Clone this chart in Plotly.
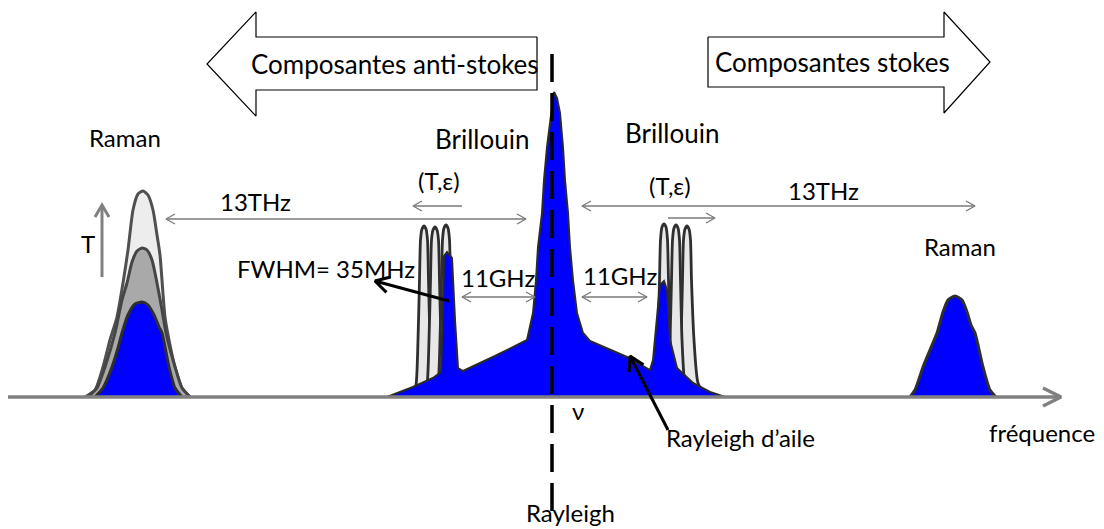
import math
import plotly.graph_objects as go

# ---------------- data (pixel-space schematic, y measured downward) ----------------
# Left Raman (anti-stokes) – three temperature states
raman_l_outer_x = [85, 95, 103, 110, 117, 123, 128, 133, 138, 143, 148, 153, 157, 160, 165, 170, 175, 182, 190]
raman_l_outer_y = [397, 390, 367, 340, 317, 283, 250, 210, 194, 191, 195, 210, 235, 255, 317, 345, 367, 388, 397]
raman_l_mid_x = [88, 97, 105, 115, 122, 127, 132, 137, 142, 147, 152, 157, 162, 166, 175, 182, 190]
raman_l_mid_y = [397, 388, 367, 333, 300, 283, 262, 251, 248, 250, 260, 283, 310, 333, 367, 388, 397]
raman_l_blue_x = [95, 103, 112, 118, 122, 128, 135, 142, 148, 154, 159, 162, 169, 175, 182]
raman_l_blue_y = [397, 388, 367, 348, 333, 315, 304, 302, 305, 315, 327, 333, 367, 388, 397]

# Right Raman (stokes)
raman_r_x = [910, 915, 923, 930, 937, 943, 948, 955, 962, 967, 971, 975, 983, 990, 996]
raman_r_y = [397, 390, 367, 350, 333, 312, 300, 296, 300, 312, 325, 333, 367, 390, 397]

# Brillouin shifted peaks (grey, three strain/temperature states each side)
bril_l1_x = [412, 416, 418, 419.5, 420.5, 422, 424, 426, 427.5, 428.5, 430, 432, 435]
bril_l1_y = [397, 385, 340, 280, 240, 229, 226, 229, 240, 280, 340, 385, 397]
bril_l2_x = [423, 427, 429, 430.5, 431.5, 433, 435, 437, 438.5, 439.5, 441, 443, 446]
bril_l2_y = [397, 385, 340, 280, 240, 230, 227, 230, 240, 280, 340, 385, 397]
bril_l3_x = [434, 438, 440, 441.5, 442.5, 444, 446, 448, 449.5, 450.5, 452, 455, 459]
bril_l3_y = [397, 385, 340, 280, 240, 228, 225, 228, 240, 280, 340, 385, 397]
bril_r1_x = [652, 656, 658, 659.5, 660.5, 662, 664, 666, 667.5, 668.5, 670, 672, 676]
bril_r1_y = [397, 385, 340, 280, 240, 227, 224, 227, 240, 280, 340, 385, 397]
bril_r2_x = [664, 668, 670, 671.5, 672.5, 674, 676, 678, 679.5, 680.5, 682, 685, 690]
bril_r2_y = [397, 385, 340, 280, 240, 228, 225, 228, 240, 280, 340, 385, 397]
bril_r3_x = [675, 679, 681, 682.5, 683.5, 685, 687, 689, 690.5, 691.5, 694, 698, 706]
bril_r3_y = [397, 385, 340, 280, 240, 229, 226, 229, 240, 280, 340, 383, 397]

# Rayleigh + Rayleigh wing + Brillouin (current state, blue)
spec_x = [387, 413, 433, 441, 443, 444, 447, 452, 455, 458, 463, 495, 527, 533, 536, 538, 542, 544,
          547, 551, 554, 557, 560, 563, 565, 568, 570, 573, 577, 583, 590, 627, 650, 653, 657, 660,
          664, 667, 670, 677, 693, 710, 725]
spec_y = [397, 387, 378, 372, 303, 256, 252, 258, 320, 368, 371, 356, 340, 313, 280, 247, 213, 180,
          147, 113, 92, 98, 113, 147, 180, 213, 247, 280, 313, 333, 341, 357, 370, 360, 320, 285,
          281, 290, 340, 368, 383, 392, 397]

# Text labels
label_text = ["Composantes anti-stokes", "Composantes stokes", "Raman", "Brillouin", "Brillouin",
              "(T,ε)", "(T,ε)", "13THz", "13THz", "T", "FWHM= 35MHz", "11GHz", "11GHz", "Raman",
              "ν", "Rayleigh d’aile", "fréquence", "Rayleigh"]
label_x = [395, 832, 125, 482, 672, 439, 670, 255, 823, 88, 326, 498, 620, 960, 578, 740, 1042, 570]
label_y = [64, 62, 137, 139, 133, 180, 185, 201, 190, 243, 268, 277, 275, 246, 410, 437, 432, 512]
label_size = [26, 26, 24, 26, 26, 24, 24, 24, 24, 24, 24, 24, 24, 24, 24, 24, 24, 24]

# Thin double/single arrows: x0, y0, x1, y1 (head at x1,y1), both heads?
thin_arrows = [
    (166, 219, 526, 219, True),
    (462, 206, 413, 206, False),
    (582, 206, 975, 206, True),
    (668, 218, 715, 218, False),
    (462, 297, 535, 297, True),
    (582, 297, 647, 297, True),
]

# ---------------- figure ----------------
fig = go.Figure()


def arrow_xy(x0, y0, x1, y1, hl, hw, both=False):
    xs = [x0, x1, None]
    ys = [y0, y1, None]
    heads = [(x0, y0, x1, y1)]
    if both:
        heads.append((x1, y1, x0, y0))
    for ax, ay, bx, by in heads:
        dx, dy = bx - ax, by - ay
        L = math.hypot(dx, dy)
        ux, uy = dx / L, dy / L
        px, py = -uy, ux
        xs += [bx - hl * ux + hw * px, bx, bx - hl * ux - hw * px, None]
        ys += [by - hl * uy + hw * py, by, by - hl * uy - hw * py, None]
    return xs, ys


def add_poly(x, y, fill, line, width):
    fig.add_trace(go.Scatter(x=x, y=y, mode="lines", fill="toself", fillcolor=fill,
                             line=dict(color=line, width=width, shape="spline", smoothing=0.6),
                             hoverinfo="skip", showlegend=False))


def add_arrow(x0, y0, x1, y1, color, width, hl, hw, both=False):
    xs, ys = arrow_xy(x0, y0, x1, y1, hl, hw, both)
    fig.add_trace(go.Scatter(x=xs, y=ys, mode="lines", line=dict(color=color, width=width),
                             hoverinfo="skip", showlegend=False))


# big block arrows
fig.add_trace(go.Scatter(x=[537, 256, 256, 207, 256, 256, 537, 537],
                         y=[37, 37, 12, 64, 116, 90, 90, 37], mode="lines",
                         fill="toself", fillcolor="white", line=dict(color="black", width=1.2),
                         hoverinfo="skip", showlegend=False))
fig.add_trace(go.Scatter(x=[708, 944, 944, 990, 944, 944, 708, 708],
                         y=[37, 37, 12, 62, 113, 87, 87, 37], mode="lines",
                         fill="toself", fillcolor="white", line=dict(color="black", width=1.2),
                         hoverinfo="skip", showlegend=False))

# left Raman peaks
add_poly(raman_l_outer_x, raman_l_outer_y, "#ededed", "#505050", 3)
add_poly(raman_l_mid_x, raman_l_mid_y, "#a9a9a9", "#454545", 3)
add_poly(raman_l_blue_x, raman_l_blue_y, "#0000ff", "#2e2e2e", 3)

# Brillouin grey peaks
for bx, by in [(bril_l1_x, bril_l1_y), (bril_l2_x, bril_l2_y), (bril_l3_x, bril_l3_y),
               (bril_r3_x, bril_r3_y), (bril_r2_x, bril_r2_y), (bril_r1_x, bril_r1_y)]:
    add_poly(bx, by, "#e8e8e8", "#2f2f2f", 2.8)

# central blue spectrum
fig.add_trace(go.Scatter(x=spec_x, y=spec_y, mode="lines", fill="toself", fillcolor="#0000ff",
                         line=dict(color="#2a2a2a", width=2),
                         hoverinfo="skip", showlegend=False))

# right Raman
add_poly(raman_r_x, raman_r_y, "#0000ff", "#2e2e2e", 3)

# baseline frequency axis with arrow
add_arrow(8, 397, 1061, 397, "#808080", 3.5, 18, 9)

# dashed Rayleigh line
fig.add_trace(go.Scatter(x=[552, 552], y=[54, 512], mode="lines",
                         line=dict(color="black", width=3.5, dash="28px,11px"),
                         hoverinfo="skip", showlegend=False))

# thin arrows
for x0, y0, x1, y1, both in thin_arrows:
    add_arrow(x0, y0, x1, y1, "#7a7a7a", 1.4, 9, 5, both)

# T arrow
add_arrow(102, 277, 102, 205, "#808080", 3, 12, 7)
# FWHM arrow
add_arrow(449, 301, 375, 281, "black", 3, 14, 8)
# Rayleigh d'aile arrow
add_arrow(668, 430, 630, 356, "black", 3, 14, 8)

for t, x, y, s in zip(label_text, label_x, label_y, label_size):
    fig.add_annotation(x=x, y=y, text=t, showarrow=False, xanchor="center", yanchor="middle",
                       font=dict(family="Lato", size=s, color="black"))

fig.update_layout(
    width=1104, height=529, autosize=False,
    margin=dict(l=0, r=0, t=0, b=0),
    paper_bgcolor="white", plot_bgcolor="white",
    xaxis=dict(range=[0, 1104], visible=False, fixedrange=True),
    yaxis=dict(range=[529, 0], visible=False, fixedrange=True),
    showlegend=False,
)

fig.write_html("out.html", config={"displayModeBar": False},
               post_script="document.body.style.margin='0';document.body.style.overflow='hidden';")
